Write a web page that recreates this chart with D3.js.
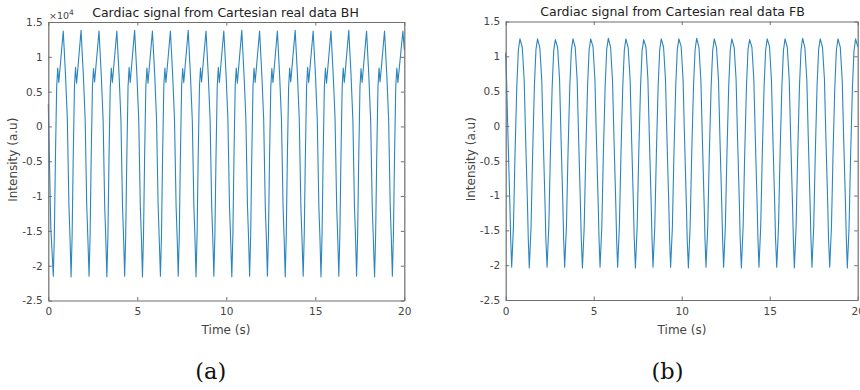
<!DOCTYPE html>
<html>
<head>
<meta charset="utf-8">
<script src="https://cdn.jsdelivr.net/npm/d3@7"></script>
<style>
  html, body { margin: 0; padding: 0; background: #fff; }
  svg { display: block; }
  text { font-family: "DejaVu Sans", sans-serif; }
</style>
</head>
<body>
<svg id="fig" width="860" height="390"></svg>
<script>
// Panel titles, axis labels and captions
const titles = ["Cardiac signal from Cartesian real data BH", "Cardiac signal from Cartesian real data FB"];
const captions = ["(a)", "(b)"];
const xLabel = "Time (s)";
const yLabel = "Intensity (a.u)";

// Tick values and their labels
const xTicks = [0, 5, 10, 15, 20];
const yTicks = [-2.5, -2, -1.5, -1, -0.5, 0, 0.5, 1, 1.5];
const yTickLabels = ["-2.5", "-2", "-1.5", "-1", "-0.5", "0", "0.5", "1", "1.5"];
const bhExponent = 4; // BH intensity axis shown in units of 10^4

// Breath-hold (BH) cardiac signal: time (s) and raw intensity
const bhTime = [
  0.00, 0.14,
  0.28, 0.34, 0.40, 0.47, 0.53, 0.59, 0.84, 0.97, 1.07, 1.16, 1.22,
  1.28, 1.34, 1.40, 1.47, 1.53, 1.59, 1.84, 1.97, 2.07, 2.16, 2.22,
  2.29, 2.35, 2.41, 2.48, 2.54, 2.60, 2.85, 2.98, 3.08, 3.17, 3.23,
  3.29, 3.35, 3.41, 3.48, 3.54, 3.60, 3.85, 3.98, 4.08, 4.17, 4.23,
  4.29, 4.35, 4.41, 4.48, 4.54, 4.60, 4.85, 4.98, 5.08, 5.17, 5.23,
  5.29, 5.35, 5.41, 5.48, 5.54, 5.60, 5.85, 5.98, 6.08, 6.17, 6.23,
  6.30, 6.36, 6.42, 6.49, 6.55, 6.61, 6.86, 6.99, 7.09, 7.18, 7.24,
  7.30, 7.36, 7.42, 7.49, 7.55, 7.61, 7.86, 7.99, 8.09, 8.18, 8.24,
  8.30, 8.36, 8.42, 8.49, 8.55, 8.61, 8.86, 8.99, 9.09, 9.18, 9.24,
  9.30, 9.36, 9.42, 9.49, 9.55, 9.61, 9.86, 9.99, 10.09, 10.18, 10.24,
  10.31, 10.37, 10.43, 10.50, 10.56, 10.62, 10.87, 11.00, 11.10, 11.19, 11.25,
  11.31, 11.37, 11.43, 11.50, 11.56, 11.62, 11.87, 12.00, 12.10, 12.19, 12.25,
  12.31, 12.37, 12.43, 12.50, 12.56, 12.62, 12.87, 13.00, 13.10, 13.19, 13.25,
  13.31, 13.37, 13.43, 13.50, 13.56, 13.62, 13.87, 14.00, 14.10, 14.19, 14.25,
  14.32, 14.38, 14.44, 14.51, 14.57, 14.63, 14.88, 15.01, 15.11, 15.20, 15.26,
  15.32, 15.38, 15.44, 15.51, 15.57, 15.63, 15.88, 16.01, 16.11, 16.20, 16.26,
  16.32, 16.38, 16.44, 16.51, 16.57, 16.63, 16.88, 17.01, 17.11, 17.20, 17.26,
  17.32, 17.38, 17.44, 17.51, 17.57, 17.63, 17.88, 18.01, 18.11, 18.20, 18.26,
  18.33, 18.39, 18.45, 18.52, 18.58, 18.64, 18.89, 19.02, 19.12, 19.21, 19.27,
  19.33, 19.39, 19.45, 19.52, 19.58, 19.64, 19.92, 20.00
];
const bhIntensity = [
  3200, -14500,
  -21500, -15600, -4600, 5700, 8400, 6300, 13700, 7200, 1000, -11500, -16000,
  -21600, -15500, -4500, 5800, 8500, 6200, 13800, 7300, 1100, -11400, -15900,
  -21500, -15400, -4400, 5700, 8300, 6400, 13700, 7100, 900, -11600, -16100,
  -21600, -15600, -4500, 5600, 8400, 6300, 13700, 7200, 1000, -11500, -16000,
  -21500, -15500, -4600, 5700, 8500, 6300, 13800, 7200, 1000, -11500, -15900,
  -21600, -15500, -4500, 5700, 8400, 6200, 13700, 7300, 1100, -11400, -16000,
  -21500, -15600, -4400, 5800, 8400, 6300, 13700, 7200, 1000, -11500, -16000,
  -21500, -15500, -4500, 5700, 8300, 6300, 13800, 7100, 900, -11600, -16100,
  -21600, -15400, -4500, 5600, 8400, 6400, 13700, 7200, 1000, -11500, -16000,
  -21500, -15500, -4600, 5700, 8500, 6300, 13700, 7300, 1000, -11500, -15900,
  -21600, -15500, -4500, 5800, 8400, 6200, 13800, 7200, 1100, -11400, -16000,
  -21500, -15600, -4500, 5700, 8400, 6300, 13700, 7200, 1000, -11500, -16000,
  -21500, -15500, -4400, 5700, 8300, 6300, 13700, 7100, 900, -11600, -16100,
  -21600, -15500, -4500, 5600, 8400, 6400, 13800, 7200, 1000, -11500, -16000,
  -21500, -15400, -4600, 5700, 8500, 6300, 13700, 7300, 1000, -11500, -15900,
  -21600, -15500, -4500, 5800, 8400, 6200, 13700, 7200, 1100, -11400, -16000,
  -21500, -15600, -4500, 5700, 8400, 6300, 13800, 7200, 1000, -11500, -16000,
  -21500, -15500, -4400, 5700, 8300, 6300, 13700, 7100, 900, -11600, -16100,
  -21600, -15500, -4500, 5600, 8400, 6400, 13700, 7200, 1000, -11500, -16000,
  -21500, -15500, -4500, 5700, 8400, 6300, 13700, 11000
];

// Free-breathing (FB) cardiac signal: time (s) and intensity
const fbTime = [
  0.00, 0.05, 0.13, 0.24, 0.28,
  0.34, 0.44, 0.53, 0.63, 0.72, 0.81, 0.94, 1.05, 1.13, 1.24, 1.28,
  1.34, 1.44, 1.53, 1.63, 1.72, 1.81, 1.94, 2.05, 2.13, 2.24, 2.28,
  2.35, 2.45, 2.54, 2.64, 2.73, 2.82, 2.95, 3.06, 3.14, 3.25, 3.29,
  3.35, 3.45, 3.54, 3.64, 3.73, 3.82, 3.95, 4.06, 4.14, 4.25, 4.29,
  4.36, 4.46, 4.55, 4.65, 4.74, 4.83, 4.96, 5.07, 5.15, 5.26, 5.30,
  5.36, 5.46, 5.55, 5.65, 5.74, 5.83, 5.96, 6.07, 6.15, 6.26, 6.30,
  6.36, 6.46, 6.55, 6.65, 6.74, 6.83, 6.96, 7.07, 7.15, 7.26, 7.30,
  7.37, 7.47, 7.56, 7.66, 7.75, 7.84, 7.97, 8.08, 8.16, 8.27, 8.31,
  8.37, 8.47, 8.56, 8.66, 8.75, 8.84, 8.97, 9.08, 9.16, 9.27, 9.31,
  9.37, 9.47, 9.56, 9.66, 9.75, 9.84, 9.97, 10.08, 10.16, 10.27, 10.31,
  10.38, 10.48, 10.57, 10.67, 10.76, 10.85, 10.98, 11.09, 11.17, 11.28, 11.32,
  11.38, 11.48, 11.57, 11.67, 11.76, 11.85, 11.98, 12.09, 12.17, 12.28, 12.32,
  12.38, 12.48, 12.57, 12.67, 12.76, 12.85, 12.98, 13.09, 13.17, 13.28, 13.32,
  13.39, 13.49, 13.58, 13.68, 13.77, 13.86, 13.99, 14.10, 14.18, 14.29, 14.33,
  14.39, 14.49, 14.58, 14.68, 14.77, 14.86, 14.99, 15.10, 15.18, 15.29, 15.33,
  15.40, 15.50, 15.59, 15.69, 15.78, 15.87, 16.00, 16.11, 16.19, 16.30, 16.34,
  16.40, 16.50, 16.59, 16.69, 16.78, 16.87, 17.00, 17.11, 17.19, 17.30, 17.34,
  17.40, 17.50, 17.59, 17.69, 17.78, 17.87, 18.00, 18.11, 18.19, 18.30, 18.34,
  18.41, 18.51, 18.60, 18.70, 18.79, 18.88, 19.01, 19.12, 19.20, 19.31, 19.35,
  19.41, 19.51, 19.60, 19.70, 19.79, 19.88, 20.00
];
const fbIntensity = [
  1.05, 0.66, -0.15, -1.16, -1.60,
  -2.03, -1.45, -0.40, 0.56, 1.09, 1.25, 1.13, 0.66, -0.15, -1.16, -1.60,
  -2.04, -1.46, -0.41, 0.57, 1.10, 1.25, 1.12, 0.65, -0.16, -1.17, -1.61,
  -2.03, -1.44, -0.39, 0.56, 1.09, 1.24, 1.13, 0.67, -0.14, -1.15, -1.60,
  -2.03, -1.45, -0.40, 0.55, 1.08, 1.25, 1.13, 0.66, -0.15, -1.16, -1.59,
  -2.04, -1.45, -0.41, 0.56, 1.09, 1.25, 1.14, 0.66, -0.15, -1.16, -1.60,
  -2.03, -1.46, -0.40, 0.57, 1.10, 1.26, 1.13, 0.65, -0.16, -1.17, -1.61,
  -2.03, -1.44, -0.39, 0.56, 1.09, 1.25, 1.12, 0.66, -0.15, -1.16, -1.60,
  -2.04, -1.45, -0.40, 0.55, 1.08, 1.24, 1.13, 0.67, -0.14, -1.15, -1.59,
  -2.03, -1.45, -0.41, 0.56, 1.09, 1.25, 1.13, 0.66, -0.15, -1.16, -1.60,
  -2.03, -1.46, -0.40, 0.57, 1.10, 1.25, 1.14, 0.65, -0.16, -1.17, -1.61,
  -2.04, -1.44, -0.39, 0.56, 1.09, 1.26, 1.13, 0.66, -0.15, -1.16, -1.60,
  -2.03, -1.45, -0.40, 0.55, 1.08, 1.25, 1.12, 0.66, -0.15, -1.16, -1.59,
  -2.03, -1.45, -0.41, 0.56, 1.09, 1.25, 1.13, 0.67, -0.14, -1.15, -1.60,
  -2.04, -1.46, -0.40, 0.57, 1.10, 1.24, 1.13, 0.66, -0.15, -1.16, -1.60,
  -2.03, -1.44, -0.39, 0.56, 1.09, 1.25, 1.14, 0.65, -0.16, -1.17, -1.61,
  -2.03, -1.45, -0.40, 0.55, 1.08, 1.25, 1.13, 0.66, -0.15, -1.16, -1.60,
  -2.04, -1.45, -0.41, 0.56, 1.09, 1.26, 1.12, 0.66, -0.15, -1.16, -1.59,
  -2.03, -1.46, -0.40, 0.57, 1.10, 1.25, 1.13, 0.67, -0.14, -1.15, -1.60,
  -2.03, -1.44, -0.39, 0.56, 1.09, 1.25, 1.13, 0.66, -0.15, -1.16, -1.60,
  -2.04, -1.45, -0.40, 0.55, 1.08, 1.25, 1.14
];

const svg = d3.select("#fig");
const axisColor = "#6f6f6f";
const textColor = "#454545";
const lineColor = "#2a86bf";

const panels = [
  { time: bhTime, values: bhIntensity, scale: Math.pow(10, bhExponent), exponent: bhExponent,
    x0: 48.3, x1: 404.3, y0: 300.5, y1: 22, title: titles[0], titleX: 225.5, titleY: 16.5,
    caption: captions[0], capX: 210.8, yLabX: 17, xLabX: 226 },
  { time: fbTime, values: fbIntensity, scale: 1, exponent: null,
    x0: 505.7, x1: 857.7, y0: 300, y1: 21.5, title: titles[1], titleX: 672.5, titleY: 15.8,
    caption: captions[1], capX: 667.5, yLabX: 475, xLabX: 682 }
];

panels.forEach(p => {
  const x = d3.scaleLinear().domain([0, 20]).range([p.x0, p.x1]);
  const y = d3.scaleLinear().domain([-2.5 * p.scale, 1.5 * p.scale]).range([p.y0, p.y1]);
  const g = svg.append("g");
  const tick = 3.5;

  // signal trace
  const line = d3.line().x((d, i) => x(p.time[i])).y(d => y(d));
  g.append("path")
    .datum(p.values)
    .attr("d", line)
    .attr("fill", "none")
    .attr("stroke", lineColor)
    .attr("stroke-width", 1.1)
    .attr("stroke-linejoin", "round");

  const yTickVals = yTicks.map(v => v * p.scale);
  const labelOf = v => yTickLabels[yTickVals.indexOf(v)];

  const styleAxis = sel => {
    sel.select(".domain").attr("stroke", axisColor).attr("stroke-width", 1.2);
    sel.selectAll(".tick line").attr("stroke", axisColor).attr("stroke-width", 1);
    sel.selectAll(".tick text").attr("fill", textColor).style("font-size", "10.5px")
      .style("font-family", "DejaVu Sans, sans-serif");
  };

  g.append("g").attr("transform", `translate(0,${p.y0})`)
    .call(d3.axisBottom(x).tickValues(xTicks).tickFormat(d3.format("d"))
      .tickSizeInner(-tick).tickSizeOuter(0).tickPadding(7.5))
    .call(styleAxis);
  g.append("g").attr("transform", `translate(0,${p.y1})`)
    .call(d3.axisTop(x).tickValues(xTicks).tickFormat("")
      .tickSizeInner(-tick).tickSizeOuter(0))
    .call(styleAxis);
  g.append("g").attr("transform", `translate(${p.x0},0)`)
    .call(d3.axisLeft(y).tickValues(yTickVals).tickFormat(labelOf)
      .tickSizeInner(-tick).tickSizeOuter(0).tickPadding(5.5))
    .call(styleAxis);
  g.append("g").attr("transform", `translate(${p.x1},0)`)
    .call(d3.axisRight(y).tickValues(yTickVals).tickFormat("")
      .tickSizeInner(-tick).tickSizeOuter(0))
    .call(styleAxis);

  // exponent marker for the scaled axis
  if (p.exponent !== null) {
    const ex = g.append("text").attr("x", p.x0 + 0.7).attr("y", 18.5)
      .attr("fill", textColor).style("font-size", "9.5px").text("\u00d710");
    ex.append("tspan").attr("dy", -4).style("font-size", "7.5px").text(p.exponent);
  }

  // title
  g.append("text").attr("x", p.titleX).attr("y", p.titleY)
    .attr("text-anchor", "middle").attr("fill", "#222")
    .style("font-size", "12.5px").text(p.title);

  // axis labels
  g.append("text").attr("x", p.xLabX).attr("y", 334)
    .attr("text-anchor", "middle").attr("fill", textColor)
    .style("font-size", "12px").text(xLabel);
  g.append("text")
    .attr("transform", `translate(${p.yLabX},${(p.y0 + p.y1) / 2 - 1.5}) rotate(-90)`)
    .attr("text-anchor", "middle").attr("fill", textColor)
    .style("font-size", "12px").text(yLabel);

  // sub-figure caption
  g.append("text").attr("x", p.capX).attr("y", 378.5)
    .attr("text-anchor", "middle").attr("fill", "#111")
    .style("font-family", "DejaVu Serif, serif")
    .style("font-size", "22.5px").text(p.caption);
});
</script>
</body>
</html>
